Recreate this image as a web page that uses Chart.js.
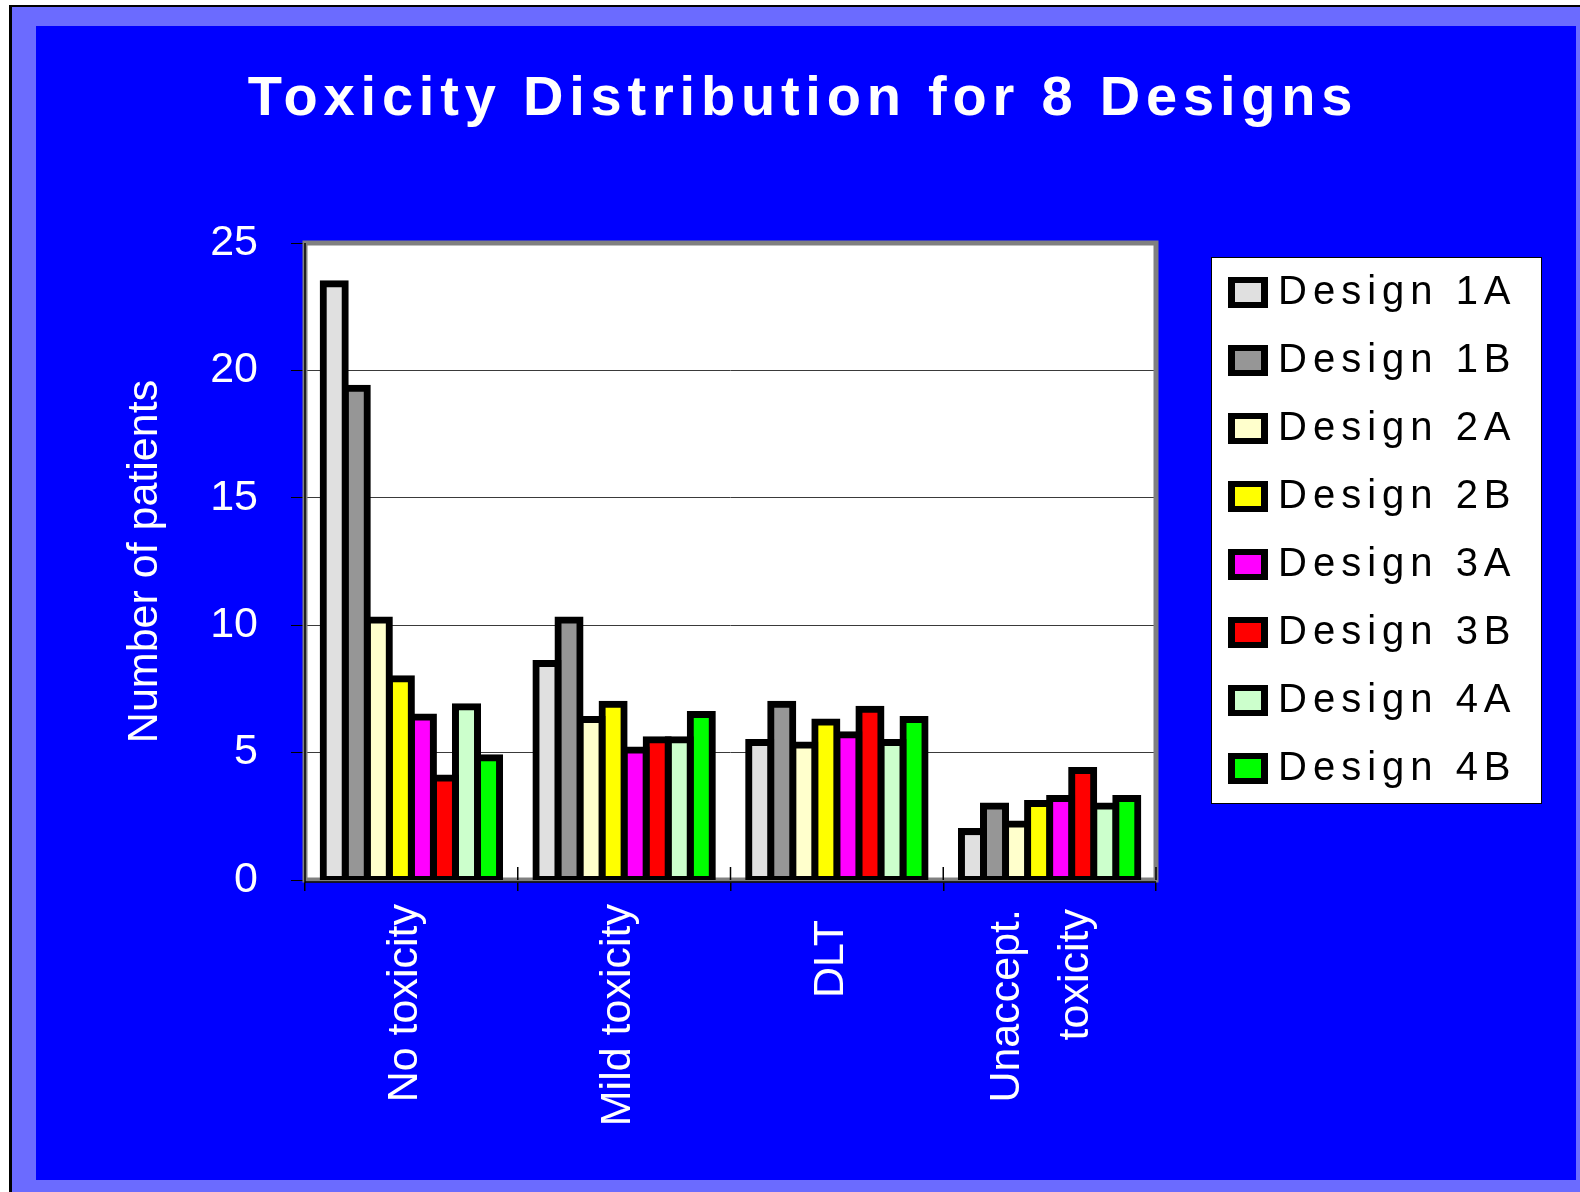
<!DOCTYPE html>
<html>
<head>
<meta charset="utf-8">
<title>Toxicity Distribution for 8 Designs</title>
<script src="https://cdn.jsdelivr.net/npm/chart.js@4.4.1/dist/chart.umd.min.js"></script>
<style>
    html, body { margin: 0; padding: 0; background: #ffffff; overflow: hidden; }
    #frame {
        position: absolute; left: 9px; top: 5px; width: 1600px; height: 1220px;
        background: #6b6bff; border-left: 3px solid #000; border-top: 2px solid #000;
    }
    #toxChart { position: absolute; left: 36px; top: 26px; background: #0000ff; }
</style>
</head>
<body>
<div id="frame"></div>
<canvas id="toxChart" width="1540" height="1154"></canvas>
<script>
// Categories and patient counts per design
const categories = ['No toxicity', 'Mild toxicity', 'DLT', ['Unaccept.', 'toxicity']];
const yTicks = [0, 5, 10, 15, 20, 25];

const design1A = [23.4, 8.5, 5.4, 1.9];
const design1B = [19.3, 10.2, 6.9, 2.9];
const design2A = [10.2, 6.3, 5.3, 2.2];
const design2B = [7.9, 6.9, 6.2, 3.0];
const design3A = [6.4, 5.1, 5.7, 3.2];
const design3B = [4.0, 5.5, 6.7, 4.3];
const design4A = [6.8, 5.5, 5.4, 2.9];
const design4B = [4.8, 6.5, 6.3, 3.2];

const seriesLabels = ['Design 1A', 'Design 1B', 'Design 2A', 'Design 2B',
                      'Design 3A', 'Design 3B', 'Design 4A', 'Design 4B'];
const seriesValues = [design1A, design1B, design2A, design2B,
                      design3A, design3B, design4A, design4B];
const seriesColors = ['#e0e0e0', '#969696', '#ffffcc', '#ffff00',
                      '#ff00ff', '#ff0000', '#ccffcc', '#00ff00'];

const FONT = '"Liberation Sans", Arial, sans-serif';

/**
 * White plot area with grey frame, axis lines and category tick marks
 */
const plotFrame = {
    id: 'plotFrame',
    beforeDraw(chart) {
        const { ctx, chartArea: a } = chart;
        ctx.save();
        ctx.fillStyle = '#ffffff';
        ctx.fillRect(a.left, a.top, a.right - a.left, a.bottom - a.top);
        ctx.restore();

        // nudge category labels: DLT sits a bit lower, the two-line label is centred on its tick
        const items = chart.scales.x.getLabelItems();
        items.forEach((it, i) => {
            if (it._moved) return;
            if (i === 2) it.options.translation[1] += 16;
            if (i === 3) {
                it.options.translation[0] -= 36;
                it.options.translation[1] += 5;
            }
            it._moved = true;
        });
    },
    beforeDatasetsDraw(chart) {
        const { ctx, chartArea: a, scales: { x } } = chart;
        ctx.save();
        ctx.strokeStyle = '#808080';
        ctx.lineWidth = 5;
        ctx.strokeRect(a.left, a.top, a.right - a.left, a.bottom - a.top);

        ctx.strokeStyle = '#000000';
        ctx.lineWidth = 1.5;
        ctx.beginPath();
        ctx.moveTo(a.left, a.top);
        ctx.lineTo(a.left, a.bottom + 3);
        ctx.moveTo(a.left, a.bottom + 2);
        ctx.lineTo(a.right, a.bottom + 2);
        for (let i = 0; i <= categories.length; i++) {
            const px = x.getPixelForValue(i - 0.5);
            ctx.moveTo(px, a.bottom - 13);
            ctx.lineTo(px, a.bottom);
        }
        ctx.stroke();
        ctx.restore();
    }
};

/**
 * Spaced-out title and boxed legend on the right
 */
const titleAndLegend = {
    id: 'titleAndLegend',
    afterDraw(chart) {
        const ctx = chart.ctx;
        ctx.save();

        ctx.font = 'bold 56px ' + FONT;
        ctx.letterSpacing = '5.8px';
        ctx.textAlign = 'center';
        ctx.textBaseline = 'alphabetic';
        ctx.fillStyle = '#ffffff';
        ctx.fillText('Toxicity Distribution for 8 Designs', 767, 89);

        ctx.fillStyle = '#ffffff';
        ctx.fillRect(1175, 231, 330, 546);
        ctx.strokeStyle = '#000000';
        ctx.lineWidth = 1;
        ctx.strokeRect(1175.5, 231.5, 330, 546);

        ctx.font = '40px ' + FONT;
        ctx.letterSpacing = '6px';
        ctx.textAlign = 'left';
        ctx.textBaseline = 'middle';
        chart.data.datasets.forEach((ds, i) => {
            const cy = 266 + i * 68;
            ctx.fillStyle = '#000000';
            ctx.fillRect(1192, cy - 15, 40, 31);
            ctx.fillStyle = ds.backgroundColor;
            ctx.fillRect(1199, cy - 9, 26, 19);
            ctx.fillStyle = '#000000';
            ctx.fillText(ds.label, 1242, cy + 1);
        });
        ctx.restore();
    }
};

function buildDatasets() {
    return seriesLabels.map((label, i) => ({
        label: label,
        data: seriesValues[i],
        backgroundColor: seriesColors[i],
        borderColor: '#000000',
        borderWidth: 7,
        borderSkipped: false,
        inflateAmount: 3.5,
        barPercentage: 1.0,
        categoryPercentage: 0.829
    }));
}

new Chart(document.getElementById('toxChart').getContext('2d'), {
    type: 'bar',
    data: {
        labels: categories,
        datasets: buildDatasets()
    },
    options: {
        responsive: false,
        animation: false,
        devicePixelRatio: 1,
        layout: {
            padding: { left: 0, top: 217, right: 420, bottom: 0 }
        },
        plugins: {
            legend: { display: false },
            title: { display: false },
            tooltip: { enabled: false }
        },
        scales: {
            x: {
                grid: {
                    display: true,
                    drawOnChartArea: false,
                    offset: true,
                    color: '#000000',
                    lineWidth: 1.5,
                    tickLength: 11
                },
                border: { display: false },
                ticks: {
                    autoSkip: false,
                    minRotation: 90,
                    maxRotation: 90,
                    padding: 13,
                    labelOffset: -6,
                    color: '#ffffff',
                    font: { family: FONT, size: 43, lineHeight: 1.6 }
                },
                afterFit: function (scale) {
                    scale.height = 300;
                }
            },
            y: {
                min: 0,
                max: 25,
                afterBuildTicks: function (scale) {
                    scale.ticks = yTicks.map(v => ({ value: v }));
                },
                grid: {
                    color: (c) => (c.tick && (c.tick.value === 25 || c.tick.value === 0)) ? 'rgba(0,0,0,0)' : '#3a3a3a',
                    tickColor: '#000000',
                    lineWidth: 1,
                    tickLength: 14
                },
                border: { display: false },
                ticks: {
                    padding: 33,
                    color: '#ffffff',
                    font: { family: FONT, size: 43 }
                },
                title: {
                    display: true,
                    text: 'Number of patients',
                    color: '#ffffff',
                    font: { family: FONT, size: 43 },
                    padding: { top: 83, bottom: 0 }
                },
                afterFit: function (scale) {
                    scale.width = 269;
                }
            }
        }
    },
    plugins: [plotFrame, titleAndLegend]
});
</script>
</body>
</html>
